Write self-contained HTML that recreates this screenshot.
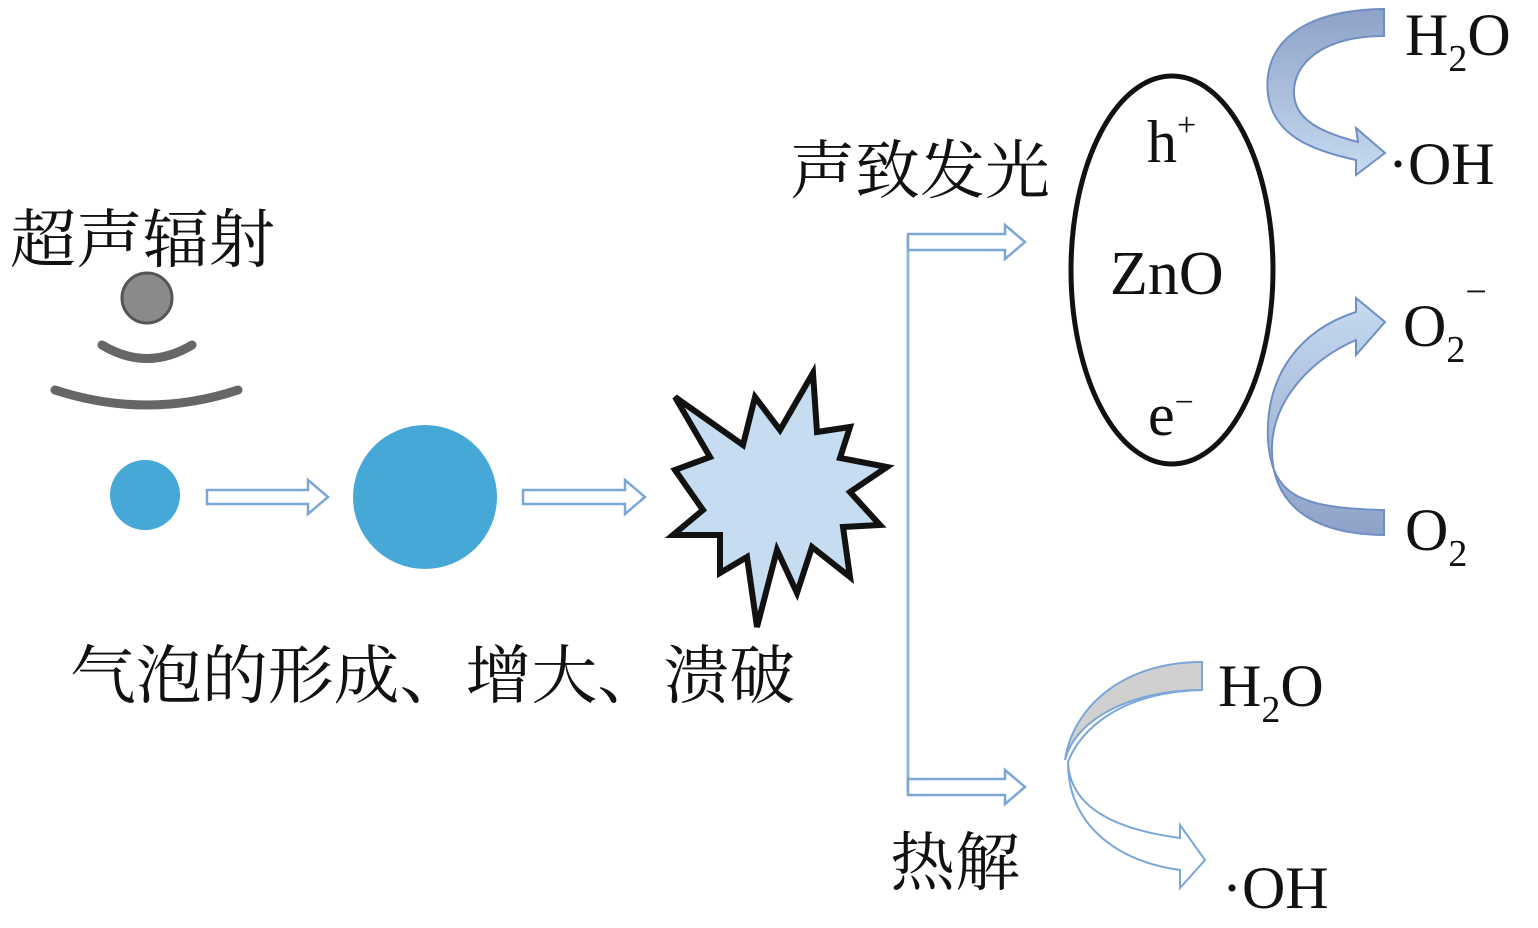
<!DOCTYPE html>
<html><head><meta charset="utf-8"><style>
html,body{margin:0;padding:0;background:#fff;}
svg{display:block}
.cn{font-family:"Liberation Serif","Noto Serif CJK SC",serif;fill:#111}
.ch{font-family:"Liberation Serif","Noto Serif CJK SC",serif;fill:#111}
</style></head><body>
<svg width="1538" height="928" viewBox="0 0 1538 928" xmlns="http://www.w3.org/2000/svg">
<defs>
<linearGradient id="g1" x1="0" y1="0" x2="0" y2="1"><stop offset="0" stop-color="#8ea2c8"/><stop offset="1" stop-color="#c6daf0"/></linearGradient>
<linearGradient id="g2" x1="0" y1="1" x2="0" y2="0"><stop offset="0" stop-color="#8ea2c8"/><stop offset="1" stop-color="#c6daf0"/></linearGradient>
</defs>
<text class="cn" x="10" y="262" font-size="64" textLength="265" lengthAdjust="spacingAndGlyphs">超声辐射</text>
<circle cx="147" cy="298" r="25" fill="#8a8a8a" stroke="#555" stroke-width="3"/>
<path d="M102,345 Q147,372 192,345" fill="none" stroke="#666" stroke-width="9" stroke-linecap="round"/>
<path d="M55,390 Q147,420 238,390" fill="none" stroke="#666" stroke-width="9" stroke-linecap="round"/>
<circle cx="145" cy="495" r="35" fill="#46a8d6"/>
<circle cx="425" cy="497" r="72" fill="#46a8d6"/>
<path d="M207,490 H308 V480 L328,497 L308,514 V504 H207 Z" fill="#fff" stroke="#7aa7d8" stroke-width="2.5"/>
<path d="M523,490 H625 V480 L645,497 L625,514 V504 H523 Z" fill="#fff" stroke="#7aa7d8" stroke-width="2.5"/>
<polygon points="675,397 743,445 755,397 780,430 813,373 817,432 850,427 840,458 887,467 850,492 880,525 843,527 850,577 812,547 797,593 777,550 757,627 747,557 720,573 720,535 673,535 703,510 675,470 710,457" fill="#c6dcf0" stroke="#111" stroke-width="6" stroke-linejoin="miter"/>
<text class="cn" x="70" y="698" font-size="64" textLength="725" lengthAdjust="spacingAndGlyphs">气泡的形成、增大、溃破</text>
<text class="cn" x="790" y="193" font-size="64" textLength="260" lengthAdjust="spacingAndGlyphs">声致发光</text>
<text class="cn" x="890" y="885" font-size="64" textLength="130" lengthAdjust="spacingAndGlyphs">热解</text>
<line x1="908" y1="238" x2="908" y2="792" stroke="#8ab8e0" stroke-width="3"/>
<path d="M908,234 H1005 V225 L1025,242 L1005,259 V250 H908 Z" fill="#fff" stroke="#7aa7d8" stroke-width="2.5"/>
<path d="M908,779 H1005 V770 L1025,787 L1005,804 V795 H908 Z" fill="#fff" stroke="#7aa7d8" stroke-width="2.5"/>
<ellipse cx="1172" cy="270" rx="101" ry="194" fill="none" stroke="#111" stroke-width="5"/>
<text class="ch" x="1147" y="162" font-size="60">h<tspan font-size="34" dy="-26">+</tspan></text>
<text class="ch" x="1110" y="294" font-size="62">ZnO</text>
<text class="ch" x="1148" y="435" font-size="60">e<tspan font-size="34" dy="-22">−</tspan></text>
<path d="M1384,9 C1300,10 1262,45 1268,95 C1274,135 1310,150 1356,160 L1356,175 L1385,153 L1356,128 L1358,142 C1320,132 1296,120 1294,95 C1292,62 1325,36 1384,36 Z" fill="url(#g1)" stroke="#6f8fc4" stroke-width="2"/>
<path d="M1384,535 C1300,534 1270,495 1272,445 C1274,400 1310,360 1356,340 L1356,355 L1385,322 L1356,298 L1356,312 C1300,330 1265,375 1268,440 C1272,495 1298,508 1384,510 Z" fill="url(#g2)" stroke="#6f8fc4" stroke-width="2"/>
<text class="ch" x="1405" y="55" font-size="60">H<tspan font-size="38" dy="16">2</tspan><tspan dy="-16">O</tspan></text>
<text class="ch" x="1388" y="184" font-size="60">·OH</text>
<text class="ch" x="1403" y="346" font-size="60">O<tspan font-size="38" dy="16">2</tspan><tspan font-size="38" dx="0" dy="-58">−</tspan></text>
<text class="ch" x="1405" y="550" font-size="60">O<tspan font-size="38" dy="16">2</tspan></text>
<path d="M1202,662 L1202,690 C1130,690 1075,720 1065,760 C1072,710 1120,662 1202,662 Z" fill="#d0d0d0" stroke="#7aa7d8" stroke-width="2"/>
<path d="M1202,690 C1120,692 1080,730 1068,762 C1070,810 1120,830 1180,838 L1180,825 L1205,860 L1180,888 L1180,870 C1110,860 1068,820 1068,762" fill="#fff" stroke="#7aa7d8" stroke-width="2"/>
<text class="ch" x="1218" y="706" font-size="60">H<tspan font-size="38" dy="16">2</tspan><tspan dy="-16">O</tspan></text>
<text class="ch" x="1222" y="908" font-size="60">·OH</text>
</svg>
</body></html>
